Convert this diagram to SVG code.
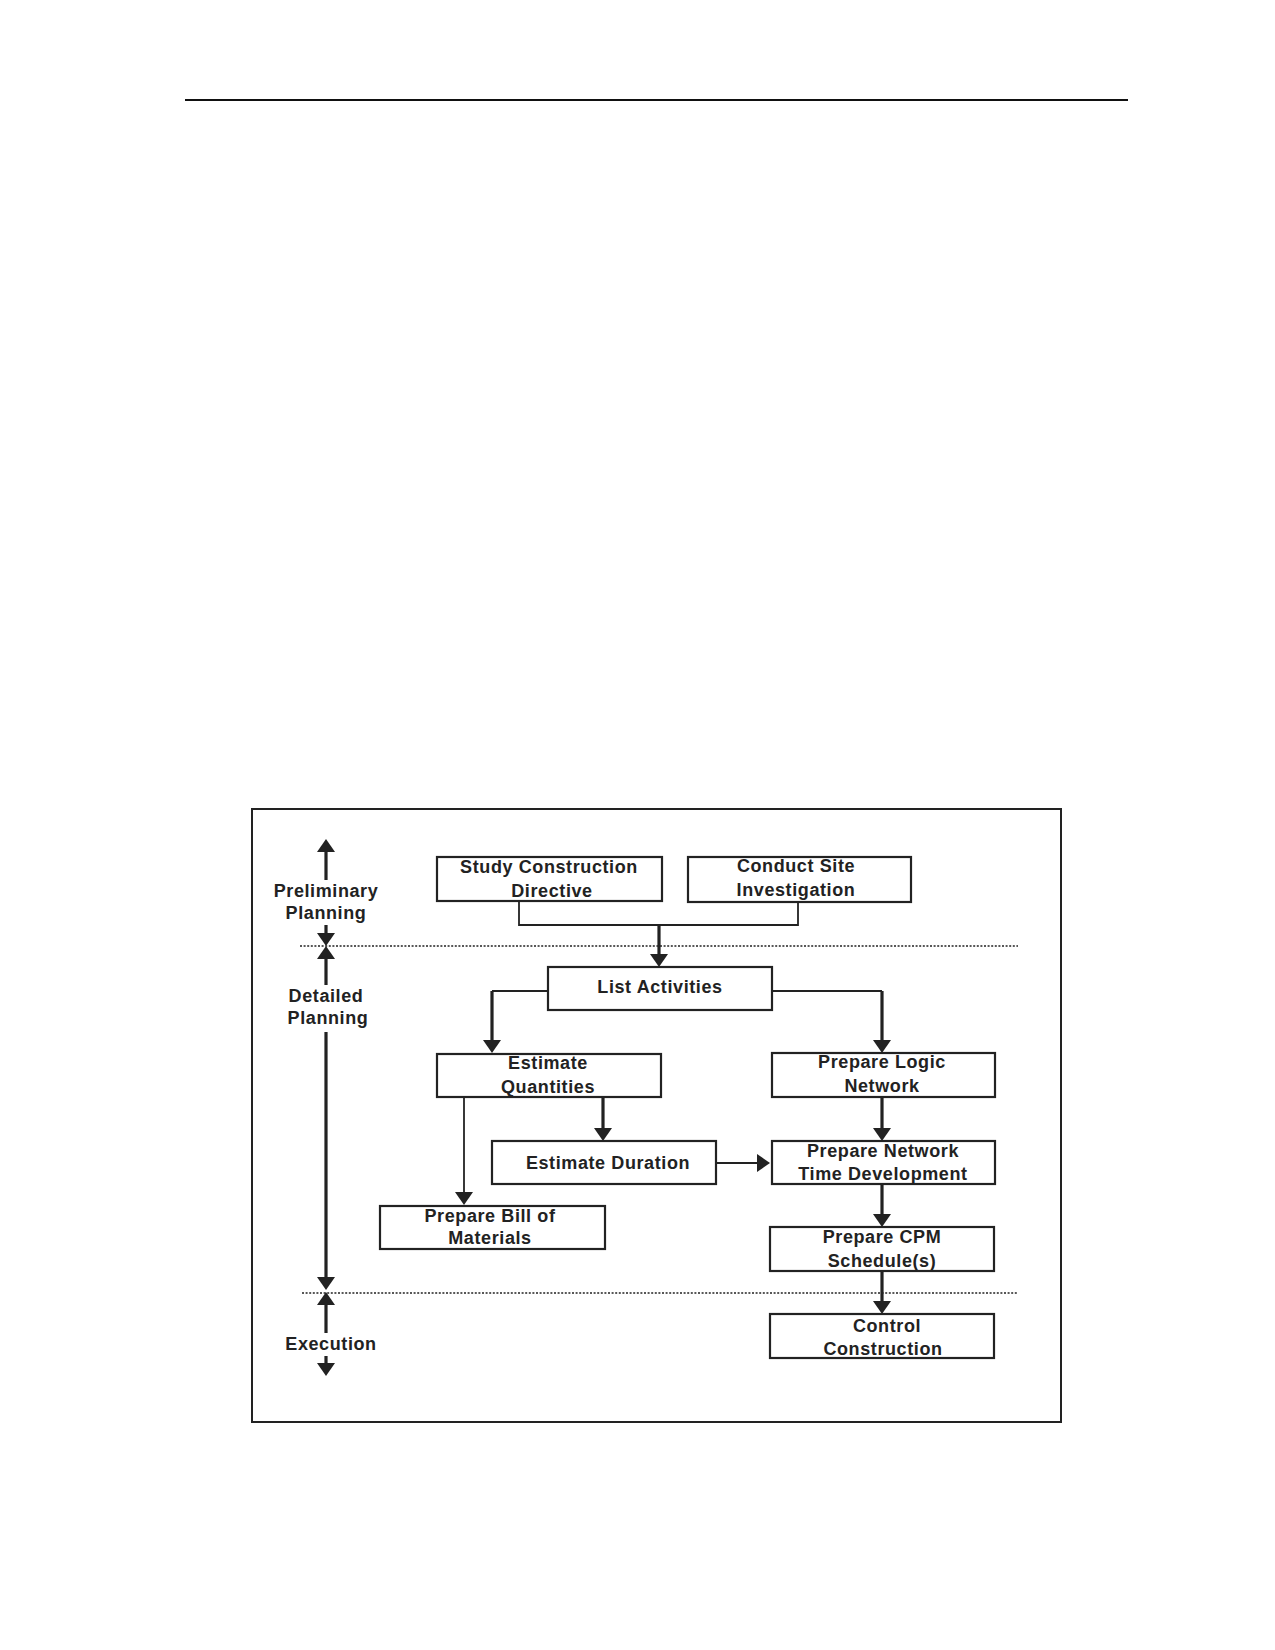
<svg xmlns="http://www.w3.org/2000/svg" width="1275" height="1650" viewBox="0 0 1275 1650">
<defs>
<style>
text{font-family:"Liberation Sans",Arial,sans-serif;font-weight:bold;font-size:18px;letter-spacing:0.6px;fill:#222;text-anchor:middle}
.box{fill:#fff;stroke:#222;stroke-width:2.2}
.thick{stroke:#222;stroke-width:3.2;fill:none}
.thin{stroke:#222;stroke-width:1.8;fill:none}
.dot{stroke:#222;stroke-width:1.3;stroke-dasharray:2 1.6;fill:none}
</style>
<marker id="ah" viewBox="0 0 13 18" refX="0" refY="9" markerWidth="13" markerHeight="18" markerUnits="userSpaceOnUse" orient="auto">
<path d="M0,0 L13,9 L0,18 Z" fill="#222"/>
</marker>
</defs>
<rect width="1275" height="1650" fill="#fff"/>
<line x1="185" y1="100" x2="1128" y2="100" stroke="#111" stroke-width="2"/>
<rect x="252" y="809" width="809" height="613" fill="none" stroke="#222" stroke-width="2"/>

<g id="phase-lines">
<line class="dot" x1="300" y1="946" x2="1018" y2="946"/>
<line class="dot" x1="302" y1="1293" x2="1018" y2="1293"/>
</g>

<g id="phase-axis">
<line class="thick" x1="326" y1="880" x2="326" y2="852" marker-end="url(#ah)"/>
<line class="thick" x1="326" y1="925" x2="326" y2="933" marker-end="url(#ah)"/>
<line class="thick" x1="326" y1="985" x2="326" y2="959" marker-end="url(#ah)"/>
<line class="thick" x1="326" y1="1032" x2="326" y2="1277" marker-end="url(#ah)"/>
<line class="thick" x1="326" y1="1333" x2="326" y2="1305" marker-end="url(#ah)"/>
<line class="thick" x1="326" y1="1356" x2="326" y2="1363" marker-end="url(#ah)"/>
<text x="326" y="897">Preliminary</text>
<text x="326" y="919">Planning</text>
<text x="326" y="1002">Detailed</text>
<text x="328" y="1024">Planning</text>
<text x="331" y="1350">Execution</text>
</g>

<g id="connectors">
<polyline class="thin" points="519,902 519,925 798,925 798,902"/>
<line class="thick" x1="659" y1="925" x2="659" y2="954" marker-end="url(#ah)"/>
<polyline class="thin" points="548,991 492,991"/>
<line class="thick" x1="492" y1="991" x2="492" y2="1040" marker-end="url(#ah)"/>
<polyline class="thin" points="772,991 882,991"/>
<line class="thick" x1="882" y1="991" x2="882" y2="1040" marker-end="url(#ah)"/>
<line class="thin" x1="464" y1="1097" x2="464" y2="1192" marker-end="url(#ah)"/>
<line class="thick" x1="603" y1="1097" x2="603" y2="1128" marker-end="url(#ah)"/>
<line class="thin" x1="716" y1="1163" x2="757" y2="1163" marker-end="url(#ah)"/>
<line class="thick" x1="882" y1="1097" x2="882" y2="1128" marker-end="url(#ah)"/>
<line class="thick" x1="882" y1="1184" x2="882" y2="1214" marker-end="url(#ah)"/>
<line class="thick" x1="882" y1="1271" x2="882" y2="1301" marker-end="url(#ah)"/>
</g>

<g id="study">
<rect class="box" x="437" y="857" width="225" height="44"/>
<text x="549" y="873">Study Construction</text>
<text x="552" y="897">Directive</text>
</g>
<g id="conduct">
<rect class="box" x="688" y="857" width="223" height="45"/>
<text x="796" y="872">Conduct Site</text>
<text x="796" y="896">Investigation</text>
</g>
<g id="list">
<rect class="box" x="548" y="967" width="224" height="43"/>
<text x="660" y="993">List Activities</text>
</g>
<g id="quantities">
<rect class="box" x="437" y="1054" width="224" height="43"/>
<text x="548" y="1069">Estimate</text>
<text x="548" y="1093">Quantities</text>
</g>
<g id="logic">
<rect class="box" x="772" y="1053" width="223" height="44"/>
<text x="882" y="1068">Prepare Logic</text>
<text x="882" y="1092">Network</text>
</g>
<g id="duration">
<rect class="box" x="492" y="1141" width="224" height="43"/>
<text x="608" y="1169">Estimate Duration</text>
</g>
<g id="networktime">
<rect class="box" x="772" y="1141" width="223" height="43"/>
<text x="883" y="1157">Prepare Network</text>
<text x="883" y="1180">Time Development</text>
</g>
<g id="bill">
<rect class="box" x="380" y="1206" width="225" height="43"/>
<text x="490" y="1222">Prepare Bill of</text>
<text x="490" y="1244">Materials</text>
</g>
<g id="cpm">
<rect class="box" x="770" y="1227" width="224" height="44"/>
<text x="882" y="1243">Prepare CPM</text>
<text x="882" y="1267">Schedule(s)</text>
</g>
<g id="control">
<rect class="box" x="770" y="1314" width="224" height="44"/>
<text x="887" y="1332">Control</text>
<text x="883" y="1355">Construction</text>
</g>
</svg>
